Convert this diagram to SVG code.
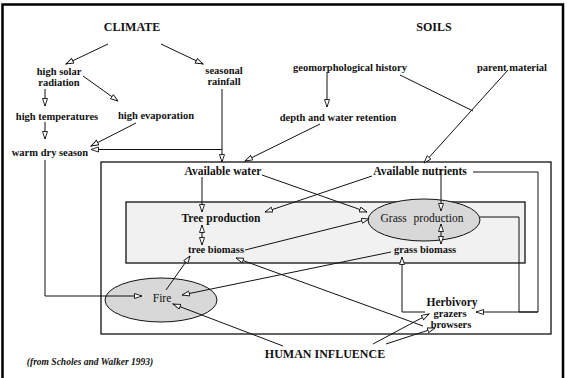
<svg xmlns="http://www.w3.org/2000/svg" width="567" height="378" viewBox="0 0 567 378">
<style>
text{font-family:'Liberation Serif','Times New Roman',serif;fill:#111;text-anchor:middle;font-weight:bold}
.h{font-size:12px}
.m{font-size:11.5px}
.s{font-size:10.5px}
.c{stroke:#111;stroke-width:1;fill:none}
.e{marker-end:url(#a)}
.b{marker-start:url(#as);marker-end:url(#a)}
</style>
<defs>
<marker id="a" markerUnits="userSpaceOnUse" markerWidth="10" markerHeight="8" refX="8" refY="3" orient="auto">
<path d="M0.5,0.5 L8,3 L0.5,5.5 Z" fill="#fff" stroke="#111" stroke-width="0.9"/>
</marker>
<marker id="as" markerUnits="userSpaceOnUse" markerWidth="10" markerHeight="8" refX="0" refY="3" orient="auto">
<path d="M7.5,0.5 L0,3 L7.5,5.5 Z" fill="#fff" stroke="#111" stroke-width="0.9"/>
</marker>
</defs>
<rect x="0" y="0" width="567" height="378" fill="#fff"/>
<rect x="2.5" y="4.5" width="560.5" height="380" fill="none" stroke="#000" stroke-width="2.5"/>
<g id="outer-box"><rect x="101" y="162" width="450" height="172" fill="#fff" stroke="#111" stroke-width="1.3"/></g>
<g id="production-box"><rect x="126" y="202" width="399" height="61" fill="#f1f1f1" stroke="#111" stroke-width="1.3"/></g>
<g id="grass-ellipse"><ellipse cx="424" cy="220" rx="56" ry="21" fill="#d8d8d8" stroke="#111" stroke-width="1"/></g>
<g id="fire-ellipse"><ellipse cx="161" cy="300" rx="56" ry="22" fill="#d8d8d8" stroke="#111" stroke-width="1"/></g>

<g id="connectors">
<line class="c e" x1="108" y1="44" x2="66" y2="64"/>
<line class="c e" x1="161" y1="44" x2="203" y2="64"/>
<line class="c e" x1="45" y1="89" x2="45" y2="106"/>
<line class="c e" x1="83" y1="76" x2="118" y2="101"/>
<line class="c e" x1="45" y1="122" x2="45" y2="139"/>
<line class="c e" x1="136" y1="123" x2="91" y2="146"/>
<line class="c e" x1="222" y1="89" x2="222" y2="162"/>
<line class="c e" x1="222" y1="149.5" x2="91" y2="149.5"/>
<line class="c e" x1="320" y1="124" x2="245" y2="161"/>
<line class="c e" x1="327" y1="72" x2="327" y2="107"/>
<line class="c" x1="400" y1="75" x2="473" y2="111"/>
<line class="c e" x1="508" y1="70" x2="424" y2="163"/>
<line class="c e" x1="202" y1="177" x2="202" y2="212"/>
<line class="c b" x1="202" y1="225" x2="202" y2="245"/>
<line class="c e" x1="262" y1="175" x2="367" y2="212"/>
<line class="c e" x1="372" y1="176" x2="265" y2="212"/>
<line class="c e" x1="441" y1="169" x2="441" y2="211"/>
<line class="c b" x1="441" y1="224" x2="441" y2="244"/>
<line class="c e" x1="245" y1="250" x2="369" y2="219"/>
<path class="c" d="M473,172 H538 V312"/>
<path class="c e" d="M480,217 H519 V312 H538 M538,312 H476"/>
<path class="c e" d="M425,312 H402 V257"/>
<line class="c e" x1="391" y1="252" x2="182" y2="295"/>
<line class="c e" x1="166" y1="290" x2="190" y2="256"/>
<path class="c e" d="M45,160 V296 H142"/>
<line class="c e" x1="283" y1="346" x2="173" y2="304"/>
<line class="c e" x1="373" y1="344" x2="429" y2="314"/>
<line class="c e" x1="386" y1="344" x2="435" y2="328"/>
<line class="c e" x1="423" y1="326" x2="236" y2="258"/>
</g>

<g id="climate"><text class="h" x="132" y="31">CLIMATE</text></g>
<g id="soils"><text class="h" x="434" y="31">SOILS</text></g>
<g id="high-solar-radiation"><text class="s" x="59" y="75">high solar</text><text class="s" x="59" y="86">radiation</text></g>
<g id="seasonal-rainfall"><text class="s" x="224" y="74">seasonal</text><text class="s" x="224" y="85">rainfall</text></g>
<g id="high-temperatures"><text class="s" x="57" y="120">high temperatures</text></g>
<g id="high-evaporation"><text class="s" x="156" y="119">high evaporation</text></g>
<g id="warm-dry-season"><text class="s" x="50" y="156">warm dry season</text></g>
<g id="geomorphological-history"><text class="s" x="350" y="71">geomorphological history</text></g>
<g id="parent-material"><text class="s" x="512" y="71">parent material</text></g>
<g id="depth-water-retention"><text class="s" x="338" y="121">depth and water retention</text></g>
<g id="available-water"><text class="m" x="223" y="175">Available water</text></g>
<g id="available-nutrients"><text class="m" x="420" y="175">Available nutrients</text></g>
<g id="tree-production"><text class="m" x="221" y="222">Tree production</text></g>
<g id="grass-production"><text class="m" x="422" y="222" style="font-weight:normal" word-spacing="4">Grass production</text></g>
<g id="tree-biomass"><text class="s" x="216" y="253">tree biomass</text></g>
<g id="grass-biomass"><text class="s" x="425" y="253">grass biomass</text></g>
<g id="fire"><text class="m" x="162" y="302" style="font-weight:normal">Fire</text></g>
<g id="herbivory"><text class="m" x="452" y="306">Herbivory</text><text class="s" x="450" y="317">grazers</text><text class="s" x="451" y="328">browsers</text></g>
<g id="human-influence"><text class="h" x="325" y="358">HUMAN INFLUENCE</text></g>
<g id="source"><text x="90" y="365" style="font-size:9.5px;font-style:italic">(from Scholes and Walker 1993)</text></g>
</svg>
